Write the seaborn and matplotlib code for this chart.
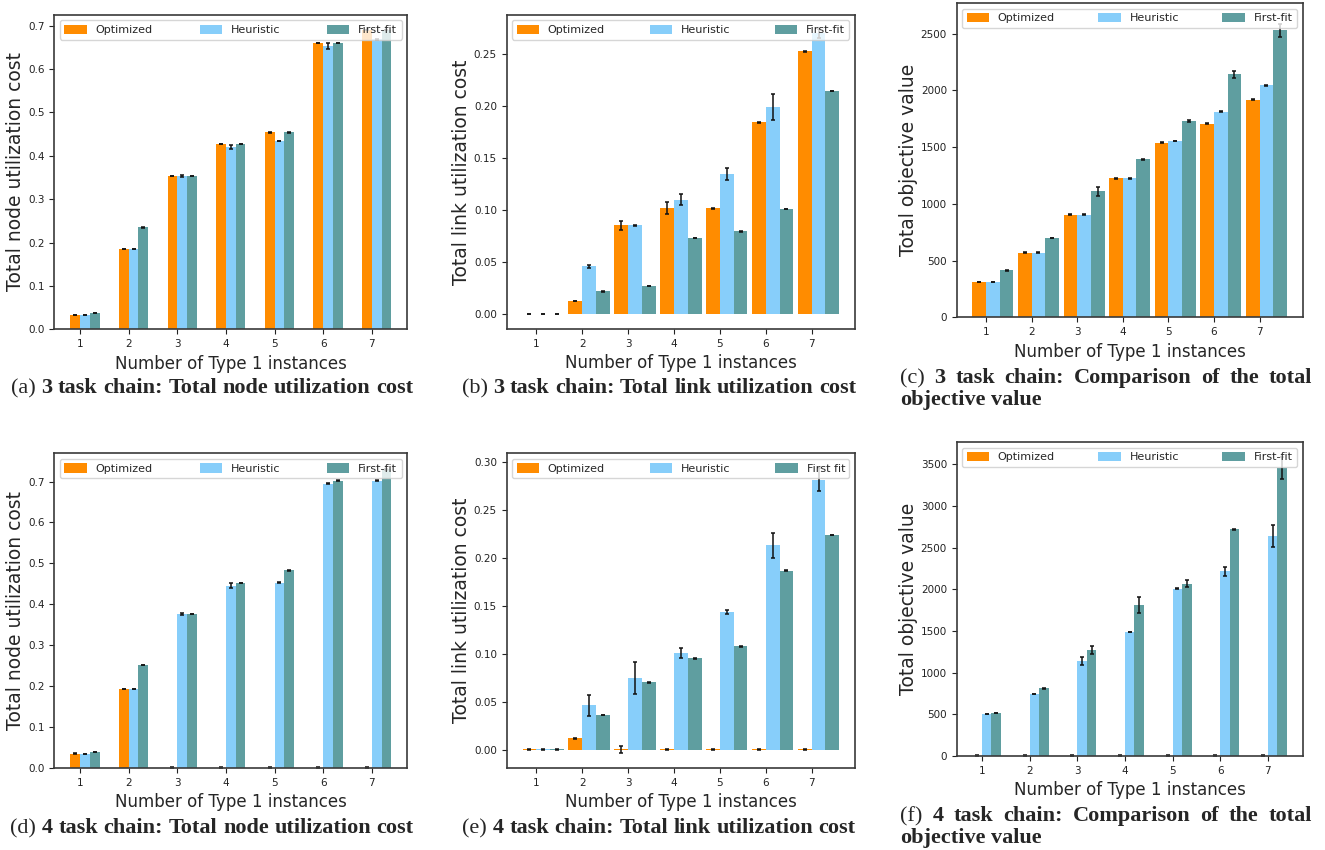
import numpy as np
import pandas as pd
import matplotlib
matplotlib.use('Agg')
import matplotlib.pyplot as plt
import seaborn as sns
from matplotlib.ticker import MultipleLocator

# Datos
INSTANCES = [1, 2, 3, 4, 5, 6, 7]
METHODS = ['Optimized', 'Heuristic', 'First-fit']
METHODS_E = ['Optimized', 'Heuristic', 'First fit']
COLORS = ['darkorange', 'lightskyblue', 'cadetblue']

# (a) 3 task chain: node cost
A_OPT = [0.033, 0.185, 0.353, 0.427, 0.454, 0.660, 0.690]
A_HEU = [0.033, 0.185, 0.353, 0.420, 0.434, 0.653, 0.668]
A_FF = [0.037, 0.235, 0.353, 0.427, 0.454, 0.660, 0.690]
A_OPT_ERR = [0.0005, 0.0005, 0.0005, 0.0005, 0.0005, 0.0005, 0.0005]
A_HEU_ERR = [0.0005, 0.0005, 0.003, 0.005, 0.0008, 0.006, 0.001]
A_FF_ERR = [0.0005, 0.0005, 0.0005, 0.0005, 0.0005, 0.0005, 0.0005]

# (b) 3 task chain: link cost
B_OPT = [0.0003, 0.0128, 0.0855, 0.1021, 0.1021, 0.1847, 0.2529]
B_HEU = [0.0003, 0.0461, 0.0855, 0.1104, 0.1348, 0.1991, 0.2700]
B_FF = [0.0003, 0.0221, 0.0272, 0.0733, 0.0800, 0.1012, 0.2148]
B_OPT_ERR = [0.0003, 0.0003, 0.0042, 0.0056, 0.0003, 0.0003, 0.0003]
B_HEU_ERR = [0.0003, 0.0015, 0.0004, 0.0054, 0.0060, 0.0125, 0.004]
B_FF_ERR = [0.0003, 0.0003, 0.0003, 0.0003, 0.0003, 0.0003, 0.0003]

# (c) 3 task chain: objective
C_OPT = [311, 570, 902, 1225, 1539, 1704, 1918]
C_HEU = [311, 570, 902, 1225, 1554, 1810, 2045]
C_FF = [414, 699, 1110, 1392, 1730, 2142, 2529]
C_OPT_ERR = [4, 4, 4, 5, 4, 4, 4]
C_HEU_ERR = [4, 4, 4, 5, 4, 4, 6]
C_FF_ERR = [4, 4, 37, 6, 10, 30, 60]

# (d) 4 task chain: node cost
D_OPT = [0.035, 0.193, 0.001, 0.001, 0.001, 0.001, 0.001]
D_HEU = [0.034, 0.193, 0.3765, 0.445, 0.453, 0.695, 0.7025]
D_FF = [0.0385, 0.251, 0.376, 0.452, 0.483, 0.7025, 0.730]
D_OPT_ERR = [0.0005, 0.0005, 0.0005, 0.0005, 0.0005, 0.0005, 0.0005]
D_HEU_ERR = [0.0005, 0.001, 0.003, 0.006, 0.001, 0.001, 0.001]
D_FF_ERR = [0.0005, 0.0005, 0.0005, 0.0005, 0.0005, 0.0005, 0.001]

# (e) 4 task chain: link cost
E_OPT = [0.0003, 0.0118, 0.0003, 0.0003, 0.0003, 0.0003, 0.0003]
E_HEU = [0.0003, 0.0463, 0.0748, 0.1006, 0.1434, 0.2134, 0.2820]
E_FF = [0.0003, 0.0362, 0.0703, 0.0954, 0.1079, 0.1869, 0.2242]
E_OPT_ERR = [0.0003, 0.0003, 0.004, 0.0003, 0.0003, 0.0003, 0.0003]
E_HEU_ERR = [0.0003, 0.011, 0.0167, 0.0052, 0.002, 0.013, 0.012]
E_FF_ERR = [0.0003, 0.0003, 0.0003, 0.0003, 0.0003, 0.0003, 0.0003]

# (f) 4 task chain: objective
F_OPT = [5, 5, 5, 5, 5, 5, 5]
F_HEU = [504, 744, 1136, 1488, 2008, 2216, 2640]
F_FF = [516, 812, 1272, 1812, 2068, 2720, 3455]
F_OPT_ERR = [4, 4, 4, 4, 4, 4, 4]
F_HEU_ERR = [5, 5, 46, 5, 8, 56, 134]
F_FF_ERR = [5, 5, 44, 92, 46, 5, 135]

CAP_FONT = 'Liberation Serif'
CAP_SIZE = 16

sns.set_style('ticks', {'axes.edgecolor': '#3a3a3a', 'xtick.color': '#222222',
                        'ytick.color': '#222222'})
plt.rcParams['font.family'] = ['DejaVu Sans']
plt.rcParams['axes.linewidth'] = 1.2


def draw_panel(ax, opt, heu, ff, errs, labels, width, ylim, step, ylabel):
    df = pd.DataFrame({
        'n': np.tile(INSTANCES, 3),
        'method': np.repeat(labels, len(INSTANCES)),
        'value': np.concatenate([opt, heu, ff]),
    })
    sns.barplot(data=df, x='n', y='value', hue='method', hue_order=labels,
                palette=COLORS, saturation=1, width=width, errorbar=None,
                linewidth=0, ax=ax)
    bars = list(ax.containers)
    for cont, err in zip(bars, errs):
        xs = [p.get_x() + p.get_width() / 2 for p in cont]
        ys = [p.get_height() for p in cont]
        ax.errorbar(xs, ys, yerr=err, fmt='none', ecolor='#111111',
                    elinewidth=1.1, capsize=1.5, capthick=1.1)
    bw = width / 3
    n = len(INSTANCES)
    ax.set_xticks(np.arange(n) - bw / 2, INSTANCES)
    m = 0.05 * (n - 1 + 3 * bw)
    ax.set_xlim(-1.5 * bw - m, n - 1 + 1.5 * bw + m)
    ax.set_ylim(*ylim)
    ax.yaxis.set_major_locator(MultipleLocator(step))
    ax.tick_params(labelsize=7.5)
    ax.set_xlabel('Number of Type 1 instances', fontsize=12)
    ax.set_ylabel(ylabel, fontsize=13.5, labelpad=2)
    handles = ax.get_legend().legend_handles
    ax.get_legend().remove()
    ax.legend(handles, labels, loc='upper left', bbox_to_anchor=(0, 0, 1, 1),
              mode='expand', ncol=3, fontsize=8, frameon=True,
              handleheight=0.9)


def caption(fig, parts, y, center=None, left=None, right=None):
    r = fig.canvas.get_renderer()
    W, H = fig.bbox.width, fig.bbox.height
    texts = [fig.text(0, 1 - y / H, s, fontsize=CAP_SIZE, family=CAP_FONT,
                      fontweight=w, va='baseline') for s, w in parts]
    widths = [t.get_window_extent(r).width for t in texts]
    gap = 0.25 * CAP_SIZE * fig.dpi / 72
    if right is not None:
        gap = (right - left - sum(widths)) / (len(parts) - 1)
    total = sum(widths) + gap * (len(parts) - 1)
    x = left if left is not None else center - total / 2
    for t, w in zip(texts, widths):
        t.set_x(x / W)
        x += w + gap


def words(tag, bold):
    return [(tag, 'normal')] + [(w, 'bold') for w in bold.split()]


fig = plt.figure(figsize=(13.25, 8.5), dpi=100)
ax_a = fig.add_axes([0.0410, 0.6126, 0.2664, 0.3701])
ax_b = fig.add_axes([0.3824, 0.6129, 0.2629, 0.3698])
ax_c = fig.add_axes([0.7220, 0.6267, 0.2611, 0.3698])
ax_d = fig.add_axes([0.0410, 0.0965, 0.2664, 0.3702])
ax_e = fig.add_axes([0.3824, 0.0965, 0.2629, 0.3702])
ax_f = fig.add_axes([0.7220, 0.1106, 0.2611, 0.3694])

draw_panel(ax_a, A_OPT, A_HEU, A_FF, [A_OPT_ERR, A_HEU_ERR, A_FF_ERR], METHODS,
           0.6, (0, 0.725), 0.1, 'Total node utilization cost')
draw_panel(ax_b, B_OPT, B_HEU, B_FF, [B_OPT_ERR, B_HEU_ERR, B_FF_ERR], METHODS,
           0.9, (-0.014, 0.288), 0.05, 'Total link utilization cost')
draw_panel(ax_c, C_OPT, C_HEU, C_FF, [C_OPT_ERR, C_HEU_ERR, C_FF_ERR], METHODS,
           0.9, (0, 2770), 500, 'Total objective value')
draw_panel(ax_d, D_OPT, D_HEU, D_FF, [D_OPT_ERR, D_HEU_ERR, D_FF_ERR], METHODS,
           0.6, (0, 0.769), 0.1, 'Total node utilization cost')
draw_panel(ax_e, E_OPT, E_HEU, E_FF, [E_OPT_ERR, E_HEU_ERR, E_FF_ERR], METHODS_E,
           0.9, (-0.0191, 0.3094), 0.05, 'Total link utilization cost')
draw_panel(ax_f, F_OPT, F_HEU, F_FF, [F_OPT_ERR, F_HEU_ERR, F_FF_ERR], METHODS,
           0.6, (0, 3768), 500, 'Total objective value')

# Subtitulos estilo LaTeX
caption(fig, words('(a)', '3 task chain: Total node utilization cost'), 393, center=212)
caption(fig, words('(b)', '3 task chain: Total link utilization cost'), 393, center=659)
caption(fig, words('(c)', '3 task chain: Comparison of the total'), 383, left=900, right=1312)
caption(fig, [('objective', 'bold'), ('value', 'bold')], 405, left=900)
caption(fig, words('(d)', '4 task chain: Total node utilization cost'), 833, center=212)
caption(fig, words('(e)', '4 task chain: Total link utilization cost'), 833, center=659)
caption(fig, words('(f)', '4 task chain: Comparison of the total'), 821, left=900, right=1312)
caption(fig, [('objective', 'bold'), ('value', 'bold')], 843, left=900)

fig.savefig('out.png', dpi=100)
